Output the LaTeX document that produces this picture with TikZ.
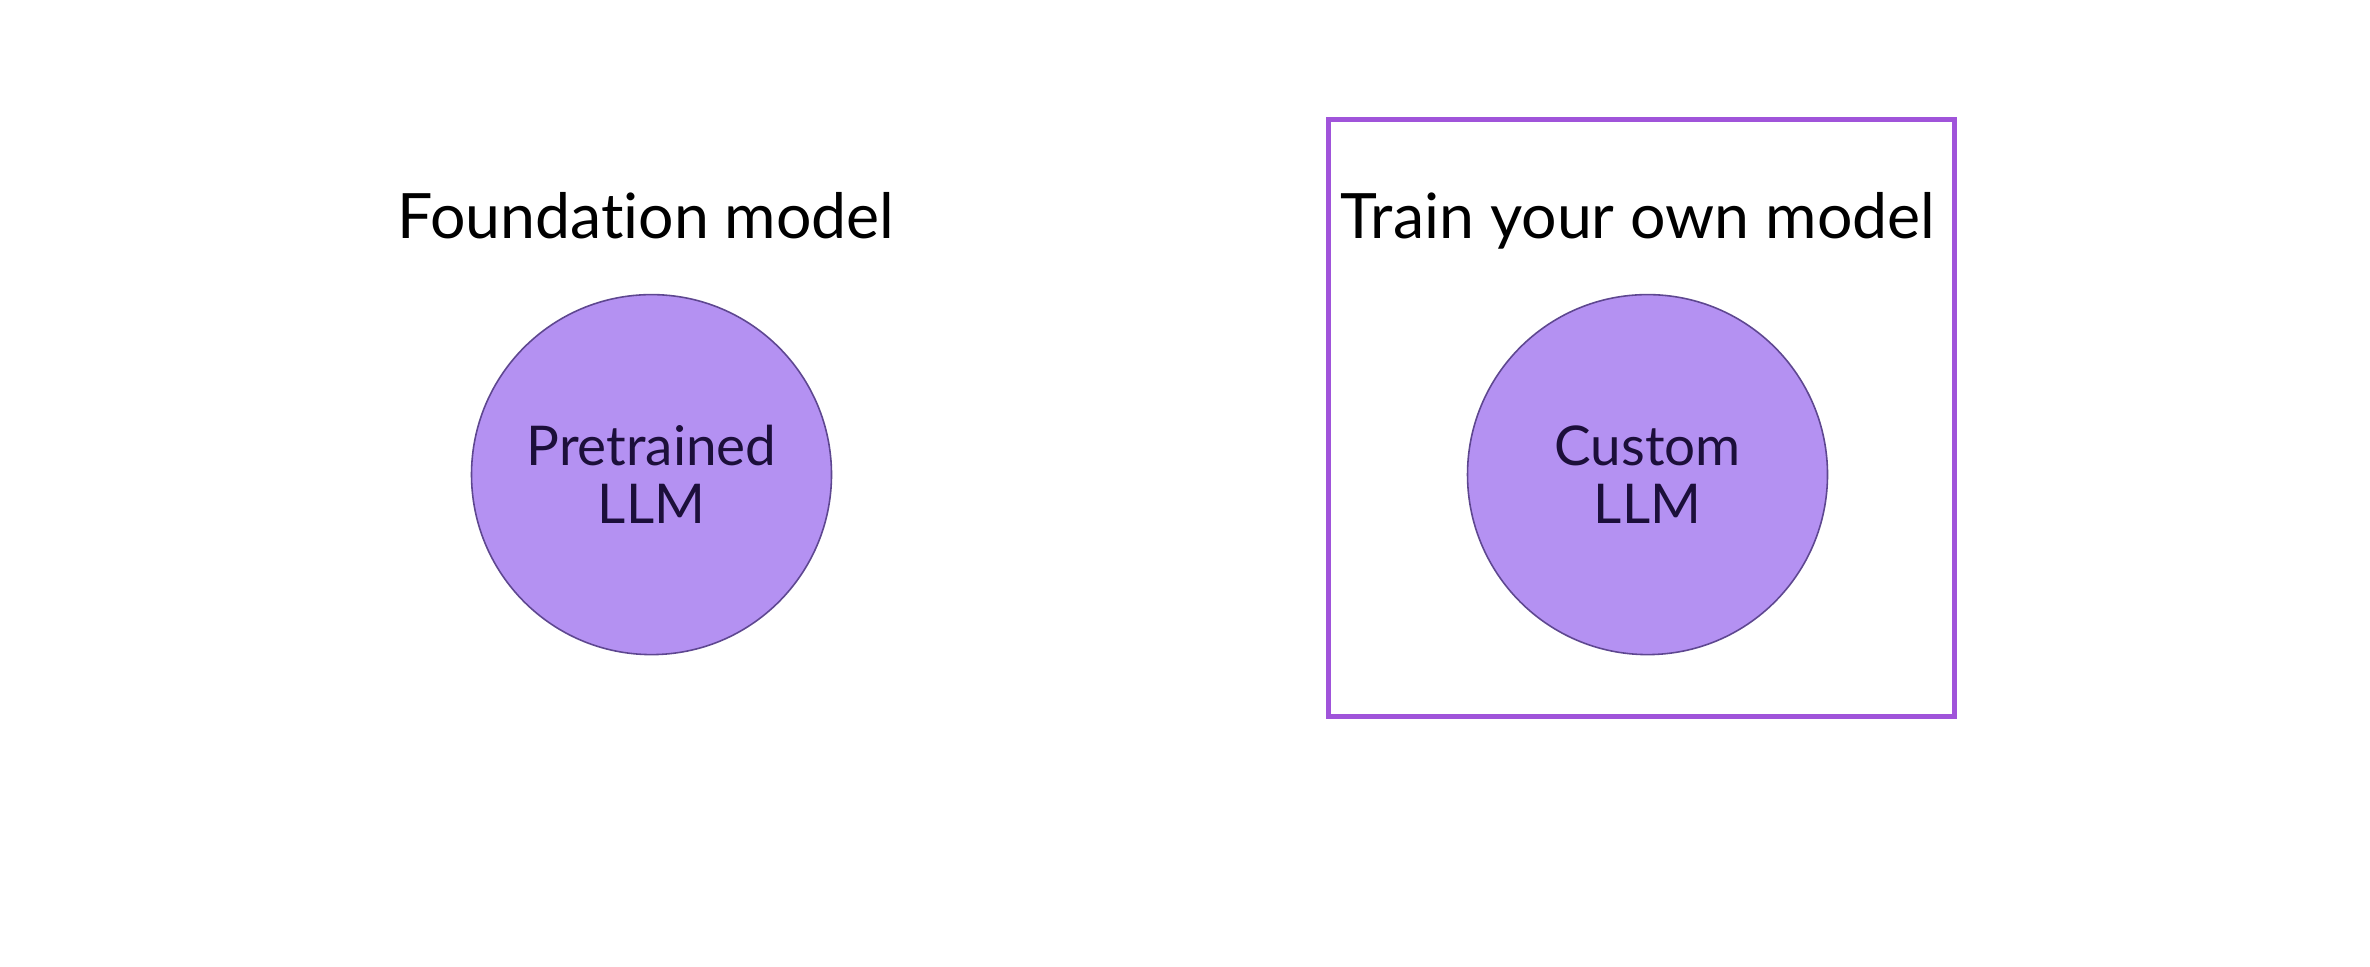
\documentclass[tikz,border=0pt]{standalone}
\usepackage{fontspec}
\setmainfont{Lato}[Ligatures=NoCommon]
\usepackage{tikz}
\usetikzlibrary{calc}
\usetikzlibrary{shapes}
\definecolor{llmfill}{HTML}{B491F2}
\definecolor{llmedge}{HTML}{5E4790}
\definecolor{llmtext}{HTML}{1C0F3A}
\definecolor{boxedge}{HTML}{A054DA}
\tikzset{
  llm/.style={shape=circle,draw=llmedge,line width=0.45pt,fill=llmfill,minimum size=3.6cm,inner sep=0pt,
    align=center,text=llmtext,font=\fontsize{15.6}{16.6}\selectfont},
  heading/.style={anchor=base,inner sep=0pt,font=\fontsize{17.8}{20}\selectfont}
}
\newcommand{\llmnode}[4]{\node[llm] ( #1 ) at ( #2 , #3 ) {#4};}
\newcommand{\headnode}[4]{\node[heading] ( #1 ) at ( #2 , #3 ) {#4};}

\begin{document}
\begin{tikzpicture}
\useasboundingbox[fill=white] (0,0) rectangle (23.70,9.66);
% left side
\headnode{foundation}{6.46}{7.272}{Foundation model}
\llmnode{pretrained}{6.515}{4.914}{Pretrained\\LLM}
% right side
\draw[boxedge,line width=1.3pt] (13.286,2.495) rectangle (19.544,8.466);
\headnode{trainown}{16.38}{7.272}{Train your own model}
\llmnode{custom}{16.475}{4.914}{Custom\\LLM}
\end{tikzpicture}
\end{document}
